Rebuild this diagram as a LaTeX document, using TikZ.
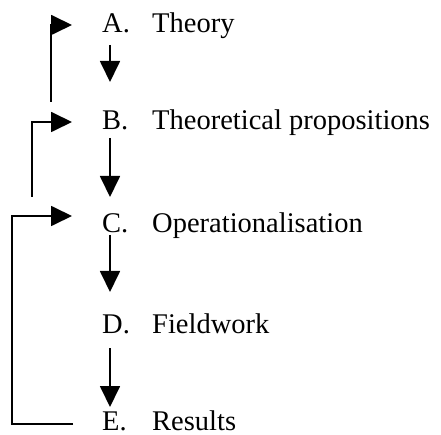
\documentclass[tikz,border=0pt]{standalone}
\usepackage{fontspec}
\setmainfont{Liberation Serif}
\usetikzlibrary{arrows.meta}
\begin{document}
\begin{tikzpicture}[x=1pt,y=-1pt,
  lbl/.style={anchor=base west,inner sep=0pt,font=\fontsize{28.5}{30}\selectfont},
  arr/.style={line width=1.8pt,-{Triangle[length=21pt,width=20pt]}},
  ln/.style={line width=1.8pt}]
\useasboundingbox (0,0) rectangle (441,435);
% labels
\node[lbl] (a) at (102,33) {A.};
\node[lbl] (at) at (152,33) {Theory};
\node[lbl] (b) at (102,130) {B.};
\node[lbl] (bt) at (152,130) {Theoretical propositions};
\node[lbl] (c) at (102,233) {C.};
\node[lbl] (ct) at (152,233) {Operationalisation};
\node[lbl] (d) at (102,333) {D.};
\node[lbl] (dt) at (152,333) {Fieldwork};
\node[lbl] (e) at (102,430) {E.};
\node[lbl] (et) at (152,430) {Results};
% downward arrows
\draw[arr] ([xshift=8pt,yshift=-12pt]a.base west) -- ([xshift=8pt,yshift=48pt]b.base west);
\draw[arr] ([xshift=8pt,yshift=-8pt]b.base west) -- ([xshift=8pt,yshift=36pt]c.base west);
\draw[arr] ([xshift=8pt,yshift=-2pt]c.base west) -- ([xshift=8pt,yshift=41pt]d.base west);
\draw[arr] ([xshift=8pt,yshift=-15pt]d.base west) -- ([xshift=8pt,yshift=23pt]e.base west);
% feedback loops
\coordinate (fa) at (51,102);
\coordinate (fb) at (32,197);
\draw[arr] (fa) |- ([xshift=-30pt,yshift=8pt]a.base west);
\draw[arr] (fb) |- ([xshift=-30pt,yshift=8pt]b.base west);
\draw[arr] ([xshift=-29pt,yshift=6pt]e.base west) -- ++(-61,0) |- ([xshift=-30pt,yshift=17pt]c.base west);
\end{tikzpicture}
\end{document}
